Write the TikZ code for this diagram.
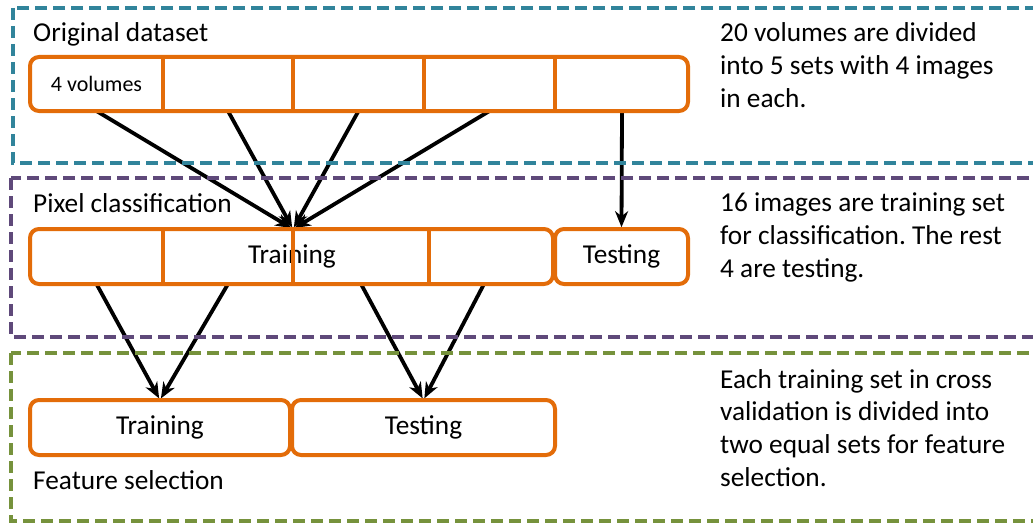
\documentclass[tikz,border=0pt]{standalone}
\usepackage{fontspec}
\setmainfont{Carlito}
\usetikzlibrary{arrows.meta}
\frenchspacing

\definecolor{frameblue}{HTML}{31849B}
\definecolor{framepurple}{HTML}{5F497A}
\definecolor{framegreen}{HTML}{76923C}
\definecolor{setorange}{HTML}{E36C09}

\pgfdeclarelayer{background}
\pgfsetlayers{background,main}

\tikzset{
  frame/.style={line width=3.8pt, dash pattern=on 12pt off 6pt},
  cell/.style={minimum height=54pt, inner sep=0pt, outer sep=0pt},
  rowline/.style={draw=setorange, line width=4pt},
  rowbox/.style={rowline, rounded corners=9pt},
  setbox/.style={draw=setorange, line width=4pt, rounded corners=9pt,
                 minimum height=55pt, inner sep=0pt, outer sep=0pt},
  arr/.style={line width=3.8pt, shorten >=1.8pt,
              -{Stealth[length=16pt,width=13pt,inset=5pt]}},
  heading/.style={anchor=base west, inner sep=0pt},
  note/.style={anchor=base west, align=left, inner sep=0pt},
  small/.style={font=\fontsize{22}{26}\selectfont}
}

\begin{document}
\begin{tikzpicture}[x=1pt, y=-1pt, font=\fontsize{27.3}{32.6}\selectfont]
  \clip (0,0) rectangle (1033,527);

  % stage frames
  \draw[frame, frameblue]   (13,8)   rectangle (1045,163);
  \draw[frame, framepurple] (11,178) rectangle (1045,337);
  \draw[frame, framegreen]  (11,353) rectangle (1045,521);

  % stage titles
  \node[heading] (ttl1) at (33,42)  {Original dataset};
  \node[heading] (ttl2) at (33,212) {Pixel classification};
  \node[heading] (ttl3) at (33,489) {Feature selection};

  % explanations (anchored at the baseline of their last line)
  \node[note] (n1) at (720,107) {20 volumes are divided\\into 5 sets with 4 images\\in each.};
  \node[note] (n2) at (720,277) {16 images are training set\\for classification. The rest\\4 are testing.};
  \node[note] (n3) at (720,486) {Each training set in cross\\validation is divided into\\two equal sets for feature\\selection.};

  % original dataset: five sets of volumes
  \node[cell, minimum width=133pt, small] (v1) at (96.5,84) {4 volumes};
  \node[cell, minimum width=130pt] (v2) at (228,84)   {};
  \node[cell, minimum width=131pt] (v3) at (358.5,84) {};
  \node[cell, minimum width=131pt] (v4) at (489.5,84) {};
  \node[cell, minimum width=132pt] (v5) at (622,84)   {};
  \draw[rowbox] (v1.north west) rectangle (v5.south east);
  \foreach \c in {v1,v2,v3,v4}
    \draw[rowline] (\c.north east) -- (\c.south east);

  % pixel classification: training and testing
  \node[cell, minimum width=133pt, minimum height=55pt] (m1) at (96.5,256.5) {};
  \node[cell, minimum width=130pt, minimum height=55pt] (m2) at (228,256.5)  {};
  \node[cell, minimum width=136pt, minimum height=55pt] (m3) at (361,256.5)  {};
  \node[cell, minimum width=124pt, minimum height=55pt] (m4) at (491,256.5)  {};
  \node (trainlbl) at (292,256.5) {Training};
  \draw[rowbox] (m1.north west) rectangle (m4.south east);
  \foreach \c in {m1,m2,m3}
    \draw[rowline] (\c.north east) -- (\c.south east);
  \node[setbox, minimum width=133pt] (tst) at (621.5,256.5) {Testing};
  \coordinate (hub) at (m3.north west);

  % feature selection split
  \node[setbox, minimum width=260pt] (ftrain) at (160,427.5)   {Training};
  \node[setbox, minimum width=263pt] (ftest)  at (423.5,427.5) {Testing};

  % connectors
  \begin{pgfonlayer}{background}
    \foreach \c in {v1,v2,v3,v4}
      \draw[arr] (\c.south) -- (hub);
    \draw[arr] (v5.south) -- (tst.north);
    \draw[arr] (m1.south) -- (ftrain.north);
    \draw[arr] (m2.south) -- (ftrain.north);
    \draw[arr] (m3.south) -- (ftest.north);
    \draw[arr] ([xshift=-7pt]m4.south) -- (ftest.north);
  \end{pgfonlayer}
\end{tikzpicture}
\end{document}
